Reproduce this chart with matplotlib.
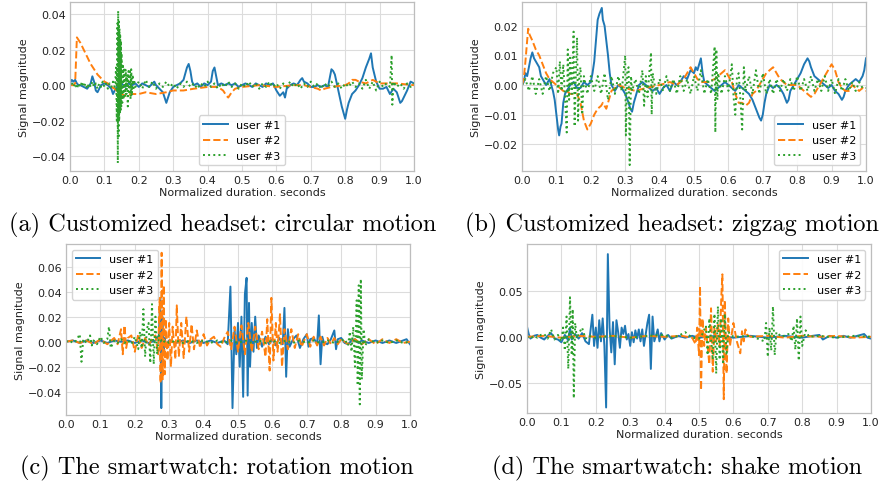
import numpy as np
import matplotlib
matplotlib.use("Agg")
import matplotlib.pyplot as plt

# Values in units of 1e-3 (signal magnitude), as (normalized time, value) pairs
a1 = [(0,1),(.005,3),(.01,2),(.015,3),(.02,1),(.025,0),(.03,0),(.04,-1),(.05,-2),(.06,1),(.065,5),(.07,2),(.075,-3),(.08,-4),(.09,0),(.10,1),(.11,0),(.12,-2),(.125,-5),(.13,-3),(.14,0),(.15,1),(.16,-1),(.17,1),(.18,0),(.19,1),(.20,-1),(.21,1),(.22,0),(.23,-1),(.24,1),(.245,2),(.25,0),(.26,-2),(.27,-4),(.28,-10),(.29,-4),(.30,-1),(.31,0),(.32,1),(.33,3),(.34,10),(.345,12),(.35,8),(.355,2),(.36,0),(.37,1),(.38,-1),(.39,1),(.40,0),(.41,2),(.415,8),(.42,10),(.425,5),(.43,0),(.44,1),(.45,0),(.46,1),(.47,0),(.48,1),(.49,-1),(.50,0),(.51,1),(.52,0),(.53,-1),(.54,1),(.55,0),(.56,-1),(.57,1),(.58,0),(.59,1),(.60,-3),(.61,-6),(.62,-4),(.625,-7),(.63,-2),(.64,0),(.65,1),(.66,0),(.67,3),(.675,4),(.68,2),(.69,1),(.70,-1),(.71,-1),(.72,0),(.73,-1),(.74,0),(.75,-1),(.76,9),(.765,8),(.77,6),(.78,-3),(.79,-12),(.80,-19),(.805,-14),(.81,-10),(.82,-5),(.83,-3),(.84,0),(.85,4),(.86,10),(.87,15),(.875,18),(.88,10),(.89,2),(.90,-2),(.91,-2),(.92,-1),(.93,-5),(.94,-2),(.95,-4),(.96,-10),(.965,-9),(.97,-7),(.98,-3),(.99,2),(1.0,1)]
a2 = [(0,0),(.01,0),(.015,1),(.02,27),(.03,24),(.04,20),(.05,16),(.06,12),(.07,9),(.08,6),(.09,4),(.10,2),(.11,1),(.12,-1),(.13,-2),(.135,-3),(.14,-4),(.15,-5),(.16,-6),(.18,-5),(.20,-5),(.22,-4),(.25,-5),(.28,-4),(.30,-3),(.33,-3),(.36,-2),(.40,-1),(.43,-1),(.445,-3),(.455,-6),(.46,-7),(.47,-4),(.48,-2),(.50,-1),(.55,0),(.60,-1),(.65,0),(.68,0),(.70,-1),(.72,-2),(.73,-3),(.74,-2),(.76,-1),(.80,0),(.81,1),(.82,3),(.83,3),(.84,2),(.86,1),(.87,2),(.88,3),(.89,2),(.90,1),(.95,1),(1.0,0)]
a3 = [(0,0),(.005,2),(.01,-1),(.015,1),(.02,-2),(.025,1),(.03,-1),(.035,2),(.04,-1),(.045,1),(.05,-2),(.055,1),(.06,-1),(.065,2),(.07,-1),(.075,1),(.08,-2),(.085,1),(.09,-1),(.095,2),(.10,-1),(.105,1),(.11,-2),(.115,1),(.12,-1),(.125,2),(.13,-1),(.132,3),(.134,10),(.136,-20),(.138,35),(.139,-44),(.140,42),(.141,-30),(.142,36),(.143,-20),(.144,32),(.145,-16),(.146,28),(.147,-15),(.148,25),(.149,-12),(.150,18),(.152,-10),(.154,12),(.156,-8),(.158,10),(.160,-6),(.162,9),(.164,-5),(.166,6),(.168,-12),(.170,8),(.172,-4),(.174,9),(.176,-8),(.178,9),(.180,-6),(.182,6),(.184,-3),(.186,3),(.19,-1),(.20,2),(.21,-2),(.22,3),(.23,-1),(.24,2),(.25,-2),(.26,1),(.27,-1),(.28,2),(.29,-1),(.30,1),(.31,-2),(.32,1),(.33,-1),(.34,2),(.35,-1),(.36,1),(.37,-2),(.38,1),(.39,-1),(.40,2),(.41,-1),(.42,1),(.43,-2),(.44,1),(.45,-1),(.46,2),(.47,-1),(.48,1),(.49,-2),(.50,1),(.51,-1),(.52,2),(.53,-1),(.54,1),(.55,-2),(.56,1),(.57,-1),(.58,2),(.59,-1),(.60,1),(.61,-2),(.62,1),(.63,-1),(.64,2),(.65,-1),(.66,1),(.67,-2),(.68,1),(.69,-1),(.70,2),(.71,-1),(.72,1),(.73,-2),(.74,1),(.75,-1),(.76,2),(.77,-1),(.78,1),(.79,-2),(.80,1),(.81,-1),(.82,2),(.83,-1),(.84,1),(.85,-2),(.86,3),(.87,-2),(.88,2),(.89,-3),(.90,2),(.91,-1),(.92,1),(.93,-1),(.935,17),(.937,-11),(.94,2),(.95,-1),(.96,1),(.97,-2),(.98,1),(.99,-1),(1.0,1)]

b1 = [(0,0),(.005,1),(.01,4),(.015,3),(.02,6),(.025,9),(.03,11),(.035,9),(.04,8),(.05,6),(.055,3),(.06,2),(.07,0),(.08,2),(.09,-2),(.095,-5),(.10,-10),(.105,-15),(.108,-17),(.112,-14),(.115,-13),(.12,-6),(.125,-3),(.13,-2),(.14,0),(.15,1),(.16,-1),(.17,-1),(.18,1),(.19,0),(.20,1),(.205,4),(.21,8),(.215,15),(.22,22),(.225,24),(.232,26),(.235,22),(.24,20),(.245,15),(.25,10),(.255,4),(.26,0),(.27,-2),(.28,0),(.29,-1),(.30,-3),(.31,-6),(.315,-8),(.32,-9),(.325,-6),(.33,-4),(.34,0),(.35,1),(.36,0),(.37,-1),(.38,-2),(.39,-1),(.40,-3),(.41,-1),(.42,0),(.43,-2),(.44,1),(.45,0),(.46,1),(.47,3),(.48,2),(.49,5),(.50,4),(.505,6),(.51,5),(.515,7),(.52,9),(.525,4),(.53,1),(.54,0),(.55,-1),(.56,-2),(.57,-1),(.58,0),(.59,1),(.60,0),(.61,-1),(.62,-2),(.63,0),(.64,-1),(.65,-2),(.66,-3),(.67,-5),(.68,-8),(.69,-11),(.695,-12),(.70,-10),(.705,-6),(.71,-3),(.72,0),(.73,-1),(.74,0),(.75,-1),(.76,-3),(.77,-6),(.775,-5),(.78,-2),(.79,0),(.80,2),(.81,4),(.82,7),(.83,9),(.835,8),(.84,6),(.85,3),(.86,2),(.87,1),(.88,0),(.89,-1),(.90,0),(.91,-2),(.92,-3),(.93,-5),(.935,-4),(.94,-2),(.95,0),(.96,1),(.97,2),(.98,1),(.99,3),(.995,5),(1.0,9)]
b2 = [(0,0),(.005,2),(.01,8),(.015,15),(.018,19),(.022,17),(.03,15),(.04,12),(.05,10),(.06,7),(.07,4),(.08,2),(.09,1),(.10,0),(.11,-1),(.12,-2),(.13,-2),(.14,-3),(.15,-3),(.16,-3),(.17,-6),(.175,-9),(.18,-12),(.19,-15),(.195,-14),(.20,-13),(.21,-10),(.22,-8),(.23,-7),(.235,-6),(.245,-8),(.25,-6),(.26,-2),(.27,-1),(.28,0),(.30,-1),(.33,-2),(.36,-1),(.40,0),(.43,1),(.45,0),(.46,1),(.47,2),(.48,4),(.49,6),(.50,4),(.51,2),(.52,1),(.54,1),(.56,2),(.57,3),(.58,4),(.59,5),(.60,3),(.61,1),(.62,-3),(.63,-6),(.64,-6),(.65,-7),(.66,-6),(.67,-3),(.68,-2),(.69,0),(.70,2),(.71,4),(.72,5),(.73,6),(.74,4),(.75,2),(.77,0),(.80,0),(.81,-1),(.82,-2),(.83,-3),(.84,-4),(.85,-3),(.86,-1),(.87,1),(.88,3),(.89,5),(.90,7),(.905,6),(.91,5),(.92,1),(.93,-1),(.94,-2),(.95,-2),(.96,0),(.97,-1),(.98,-2),(.99,-1),(1.0,-2)]
b3 = [(0,0),(.01,2),(.02,-2),(.03,3),(.04,-3),(.05,2),(.06,-3),(.07,3),(.08,-2),(.09,4),(.10,6),(.105,-3),(.11,8),(.115,-2),(.12,7),(.125,-4),(.13,-16),(.133,12),(.137,-5),(.14,10),(.145,-3),(.15,18),(.153,-14),(.157,6),(.16,16),(.163,-12),(.167,4),(.17,6),(.175,-10),(.18,3),(.19,-3),(.20,3),(.21,-2),(.22,3),(.23,-3),(.24,4),(.25,-5),(.26,3),(.27,-3),(.28,3),(.29,-2),(.30,10),(.302,-17),(.306,5),(.31,6),(.313,-27),(.317,3),(.32,-2),(.33,2),(.34,-3),(.35,5),(.355,-7),(.36,3),(.365,-4),(.37,4),(.375,11),(.377,-10),(.38,4),(.39,-3),(.40,2),(.41,-2),(.42,3),(.43,-2),(.44,2),(.45,-3),(.46,3),(.47,-2),(.48,2),(.49,-3),(.50,3),(.51,-2),(.52,5),(.53,-3),(.54,2),(.55,-3),(.56,13),(.562,-16),(.565,12),(.568,-5),(.57,4),(.58,-3),(.59,3),(.60,-2),(.61,7),(.615,-4),(.62,-10),(.625,3),(.63,4),(.635,-5),(.64,-15),(.645,6),(.65,-2),(.66,3),(.67,-3),(.68,5),(.69,-3),(.70,4),(.71,-3),(.72,2),(.73,-3),(.74,2),(.75,-2),(.76,2),(.77,-2),(.78,2),(.79,-2),(.80,3),(.81,-2),(.82,2),(.83,-2),(.84,3),(.85,-2),(.86,2),(.87,-2),(.88,3),(.89,-2),(.90,2),(.91,-3),(.92,2),(.93,-2),(.94,2),(.95,-2),(.96,1),(.97,-2),(.98,1),(.99,-1),(1.0,-1)]

c1 = [(0,0),(.02,1),(.04,-1),(.06,1),(.08,-1),(.10,1),(.12,-1),(.14,1),(.16,0),(.18,1),(.20,-1),(.22,1),(.24,-1),(.26,1),(.27,5),(.274,35),(.277,-53),(.28,20),(.283,-10),(.287,3),(.29,-2),(.30,1),(.32,-1),(.34,1),(.36,-1),(.38,1),(.40,-1),(.42,1),(.44,-1),(.46,1),(.47,-2),(.478,44),(.484,-53),(.49,10),(.495,-10),(.50,15),(.505,-20),(.51,20),(.515,-44),(.52,38),(.525,51),(.528,-43),(.532,31),(.535,-20),(.54,15),(.545,-8),(.55,20),(.555,-5),(.56,5),(.57,-4),(.58,4),(.59,-2),(.60,2),(.61,-3),(.62,3),(.63,-2),(.635,27),(.64,-28),(.645,10),(.65,-4),(.66,2),(.67,5),(.68,-5),(.69,2),(.70,6),(.705,-4),(.71,2),(.72,3),(.73,-2),(.735,21),(.74,-18),(.745,4),(.75,-1),(.76,-2),(.77,2),(.78,9),(.785,-6),(.79,2),(.80,3),(.81,-1),(.82,-2),(.83,1),(.84,2),(.85,-1),(.86,1),(.88,-1),(.90,1),(.92,-1),(.94,1),(.96,-1),(.98,1),(.99,2),(1.0,-2)]
c2 = [(0,0),(.02,1),(.04,-1),(.06,1),(.08,-2),(.10,2),(.12,-2),(.14,3),(.15,-2),(.16,10),(.165,-10),(.17,13),(.175,-5),(.18,3),(.19,5),(.20,-8),(.21,6),(.22,-5),(.23,3),(.24,-3),(.25,2),(.26,5),(.268,-10),(.272,35),(.275,-33),(.278,71),(.281,-30),(.284,45),(.287,-26),(.29,18),(.295,-15),(.30,15),(.305,-20),(.31,12),(.318,-14),(.322,29),(.328,-12),(.335,15),(.342,-13),(.35,20),(.358,-8),(.365,14),(.372,-6),(.38,9),(.39,-5),(.40,6),(.41,-3),(.42,2),(.43,4),(.44,-2),(.45,-4),(.46,3),(.47,8),(.48,-6),(.49,12),(.50,-8),(.51,13),(.52,-10),(.53,15),(.54,-8),(.55,12),(.56,-6),(.57,8),(.58,-12),(.585,18),(.592,-23),(.597,35),(.603,-15),(.61,15),(.615,-8),(.622,22),(.628,-20),(.635,10),(.645,-6),(.655,10),(.665,-5),(.675,6),(.685,-4),(.70,6),(.71,-4),(.72,4),(.73,-3),(.74,4),(.75,-3),(.76,3),(.77,-2),(.78,3),(.79,-2),(.80,2),(.82,-2),(.84,2),(.86,-2),(.88,2),(.90,-2),(.92,2),(.94,-1),(.96,2),(.98,-1),(1.0,0)]
c3 = [(0,0),(.01,1),(.02,-1),(.03,1),(.04,6),(.045,-16),(.05,2),(.06,-1),(.07,5),(.075,-3),(.08,1),(.09,-2),(.10,4),(.11,-1),(.12,2),(.125,12),(.13,-5),(.14,1),(.15,-1),(.16,2),(.17,-1),(.18,1),(.19,-2),(.20,4),(.21,-6),(.215,8),(.22,-5),(.225,26),(.23,-12),(.235,10),(.24,15),(.245,-17),(.25,30),(.255,-18),(.26,20),(.265,-10),(.27,5),(.28,-1),(.29,1),(.30,-1),(.32,1),(.34,-1),(.36,1),(.38,-1),(.40,1),(.42,-1),(.44,1),(.46,-1),(.48,1),(.50,-1),(.52,1),(.54,-1),(.56,1),(.58,-1),(.60,1),(.62,-1),(.64,1),(.66,-1),(.68,1),(.70,-1),(.72,1),(.74,-1),(.76,1),(.78,-1),(.80,1),(.81,2),(.82,-3),(.825,8),(.83,-8),(.835,12),(.84,-20),(.845,33),(.848,-35),(.851,45),(.854,-50),(.857,50),(.86,-30),(.865,10),(.87,-3),(.88,2),(.90,-1),(.92,1),(.94,-1),(.96,1),(.98,-1),(1.0,0)]

d1 = [(0,11),(.005,3),(.01,-2),(.02,1),(.03,2),(.04,-1),(.05,-3),(.06,1),(.07,4),(.08,-2),(.09,-3),(.10,-6),(.11,2),(.12,-4),(.125,10),(.13,-3),(.14,3),(.15,-2),(.16,4),(.17,-5),(.18,-8),(.19,24),(.195,-10),(.20,10),(.205,-12),(.21,18),(.215,-5),(.22,20),(.225,-10),(.23,-77),(.235,90),(.24,10),(.245,-17),(.25,16),(.255,-30),(.26,18),(.265,5),(.27,-12),(.275,10),(.28,3),(.285,12),(.29,-3),(.295,3),(.30,-10),(.305,5),(.31,-6),(.315,7),(.32,-2),(.325,8),(.33,-5),(.335,8),(.34,-10),(.35,15),(.355,24),(.36,-35),(.365,22),(.37,-5),(.38,8),(.385,-5),(.39,4),(.40,-3),(.41,2),(.42,-2),(.44,1),(.46,-1),(.48,1),(.50,-1),(.55,1),(.60,-1),(.65,1),(.70,-1),(.75,1),(.80,-1),(.83,1),(.85,2),(.86,-3),(.88,1),(.90,-1),(.92,1),(.94,-1),(.96,1),(.98,3),(.99,-1),(1.0,-2)]
d2 = [(0,0),(.05,1),(.1,-1),(.15,1),(.2,0),(.25,1),(.3,-1),(.35,1),(.4,0),(.45,1),(.48,-1),(.49,-8),(.495,10),(.50,-20),(.503,55),(.506,-58),(.51,20),(.515,-10),(.52,10),(.53,-30),(.535,31),(.54,-38),(.545,10),(.55,-5),(.555,15),(.56,-10),(.565,45),(.568,68),(.572,-68),(.575,40),(.58,-40),(.585,20),(.59,-10),(.60,15),(.61,-5),(.62,-18),(.625,6),(.63,-5),(.635,8),(.64,2),(.65,0),(.70,1),(.75,-1),(.80,1),(.85,0),(.90,1),(.95,-1),(1.0,0)]
d3 = [(0,0),(.01,-2),(.02,1),(.03,-1),(.04,2),(.05,3),(.06,-2),(.07,8),(.08,-3),(.09,2),(.10,-5),(.105,10),(.11,-15),(.115,22),(.12,-35),(.125,43),(.13,-20),(.133,30),(.136,-67),(.14,15),(.145,-2),(.15,3),(.16,10),(.17,-2),(.18,1),(.20,-1),(.25,1),(.30,-1),(.35,1),(.40,2),(.42,-1),(.44,1),(.46,5),(.48,-1),(.50,-2),(.51,3),(.52,12),(.525,-20),(.53,20),(.54,-25),(.545,25),(.55,-40),(.555,33),(.56,-25),(.565,20),(.57,-30),(.575,25),(.58,-20),(.585,5),(.60,0),(.65,1),(.69,-5),(.695,15),(.70,-22),(.705,10),(.71,-15),(.715,33),(.72,-20),(.725,5),(.74,0),(.76,3),(.77,-5),(.775,12),(.78,-14),(.785,20),(.79,-26),(.795,22),(.80,-10),(.81,7),(.82,0),(.85,1),(.90,-1),(.95,1),(1.0,0)]

user_labels = ["user #1", "user #2", "user #3"]
captions = ["(a) Customized headset: circular motion",
            "(b) Customized headset: zigzag motion",
            "(c) The smartwatch: rotation motion",
            "(d) The smartwatch: shake motion"]
x_ticks = [0.0, 0.1, 0.2, 0.3, 0.4, 0.5, 0.6, 0.7, 0.8, 0.9, 1.0]
y_ticks = [[-0.04, -0.02, 0.0, 0.02, 0.04],
           [-0.02, -0.01, 0.0, 0.01, 0.02],
           [-0.04, -0.02, 0.0, 0.02, 0.04, 0.06],
           [-0.05, 0.0, 0.05]]
y_lims = [(-0.0485, 0.047), (-0.029, 0.028), (-0.0585, 0.078), (-0.083, 0.101)]
panels = [(a1, a2, a3), (b1, b2, b3), (c1, c2, c3), (d1, d2, d3)]
legend_locs = ["lower center", "lower right", "upper left", "upper right"]

W, H = 886, 485
fig = plt.figure(figsize=(W / 100, H / 100), dpi=100)
fig.patch.set_facecolor("white")

rects = [(70, 3, 344, 169), (522, 3, 344, 169), (66, 245, 344, 171), (527, 245, 344, 169)]
caption_pos = [(223, 225), (672, 225), (217, 468), (677, 468)]

colors = ["#1f77b4", "#ff7f0e", "#2ca02c"]
styles = ["-", "--", ":"]

for i, (series, rect) in enumerate(zip(panels, rects)):
    l, t, w, h = rect
    ax = fig.add_axes([l / W, 1 - (t + h) / H, w / W, h / H])
    for s, col, ls, lab in zip(series, colors, styles, user_labels):
        xs = np.array([p[0] for p in s])
        ys = np.array([p[1] for p in s]) / 1000.0
        ax.plot(xs, ys, color=col, linestyle=ls, linewidth=1.4, label=lab)
    ax.set_xlim(0, 1)
    ax.set_ylim(*y_lims[i])
    ax.set_xticks(x_ticks)
    ax.set_yticks(y_ticks[i])
    ax.grid(True, color="#dcdcdc", linewidth=0.8)
    ax.set_axisbelow(True)
    for sp in ax.spines.values():
        sp.set_color("#bdbdbd")
        sp.set_linewidth(0.9)
    ax.tick_params(length=0, pad=3, labelsize=8, colors="#222222")
    ax.set_xlabel("Normalized duration. seconds", fontsize=8, labelpad=1, color="#222222")
    ax.set_ylabel("Signal magnitude", fontsize=8, labelpad=2, color="#222222")
    leg = ax.legend(loc=legend_locs[i], fontsize=8, frameon=True, framealpha=0.9,
                    edgecolor="#d0d0d0", fancybox=True, handlelength=2.2)
    cx, cy = caption_pos[i]
    fig.text(cx / W, 1 - cy / H, captions[i], family="cmr10", fontsize=17.5,
             ha="center", va="center")

fig.savefig("out.png", dpi=100)
